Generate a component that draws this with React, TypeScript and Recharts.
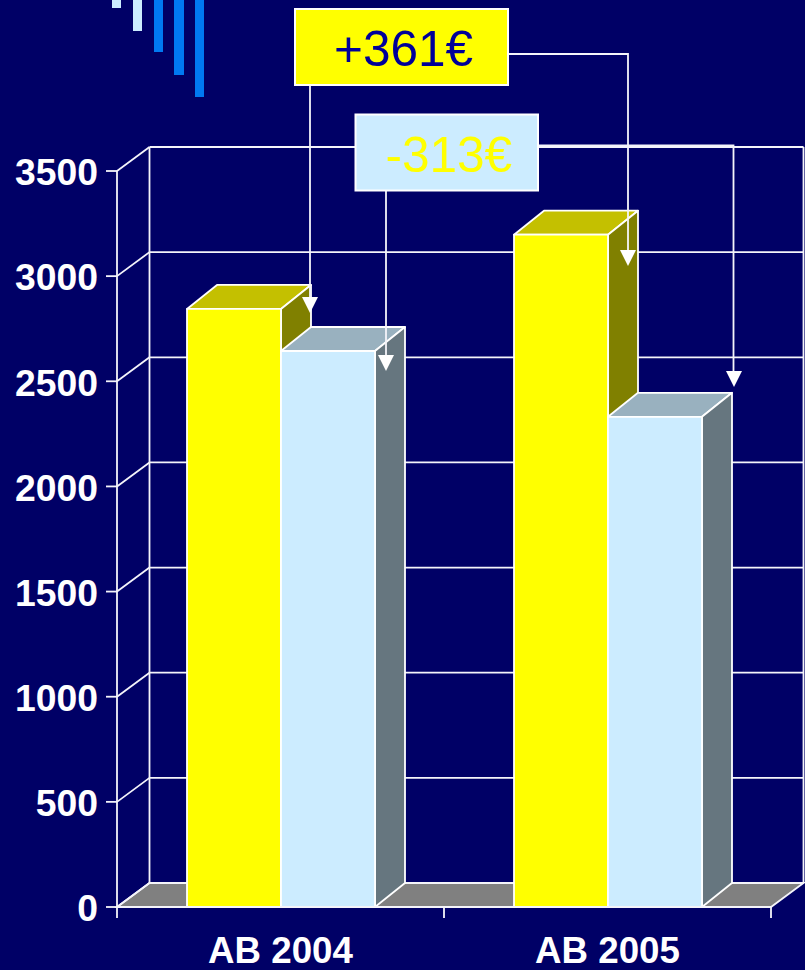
import React from "react";
import { BarChart, Bar, XAxis, YAxis, CartesianGrid } from "recharts";

const categories = ["AB 2004", "AB 2005"];
const yellowSeries = [2844, 3197];
const blueSeries = [2644, 2331];
const yTicks = [0, 500, 1000, 1500, 2000, 2500, 3000, 3500];

const data = categories.map((name, i) => ({ name, yellow: yellowSeries[i], blue: blueSeries[i] }));

const W = 805, H = 970;
const AXIS_H = 63, AXIS_W = 117;
const M = { top: 171, right: 34, bottom: 0, left: 0 };
const BAND = (W - AXIS_W - M.right) / categories.length;
const LINE = "#f4f4fa";
const LW = 1.8;
const FONT = "'Liberation Sans', Arial, sans-serif";

function Bar3D(props: any) {
  const { x, y, width, height, front, top, side } = props;
  const dx = 30, dy = 24;
  const stroke = { stroke: "#fff", strokeWidth: 1.8, strokeLinejoin: "round" as const };
  return (
    <g>
      <path d={`M${x},${y} L${x + dx},${y - dy} L${x + width + dx},${y - dy} L${x + width},${y} Z`} fill={top} {...stroke} />
      <path d={`M${x + width},${y} L${x + width + dx},${y - dy} L${x + width + dx},${y + height - dy} L${x + width},${y + height} Z`} fill={side} {...stroke} />
      <rect x={x} y={y} width={width} height={height} fill={front} {...stroke} />
    </g>
  );
}

function GridLine3D(props: any) {
  const { x1, x2, y1, index } = props;
  const dx = 32.5, dy = 24;
  const isBase = Math.abs(y1 - (H - AXIS_H)) < 0.5;
  return (
    <g key={index}>
      {isBase && (
        <path
          d={`M${x1},${y1} L${x1 + dx},${y1 - dy} L${x2 + dx},${y1 - dy} L${x2},${y1} Z`}
          fill="#808080"
          stroke={LINE}
          strokeWidth={LW}
        />
      )}
      <line x1={x1} y1={y1} x2={x1 + dx} y2={y1 - dy} stroke={LINE} strokeWidth={LW} />
      <line x1={x1 + dx} y1={y1 - dy} x2={x2 + dx} y2={y1 - dy} stroke={LINE} strokeWidth={LW} />
      {isBase && (
        <>
          <line x1={x1 + dx} y1={y1 - dy} x2={x1 + dx} y2={M.top - dy} stroke={LINE} strokeWidth={LW} />
          <line x1={x2 + dx} y1={y1 - dy} x2={x2 + dx} y2={M.top - dy} stroke={LINE} strokeWidth={LW} />
        </>
      )}
    </g>
  );
}

function CategoryTick(props: any) {
  const { x, y, payload, index } = props;
  const left = x - BAND / 2;
  return (
    <g>
      <line x1={left} y1={y} x2={left} y2={y + 11} stroke={LINE} strokeWidth={LW} />
      {index === categories.length - 1 && (
        <line x1={left + BAND} y1={y} x2={left + BAND} y2={y + 11} stroke={LINE} strokeWidth={LW} />
      )}
      <text x={x} y={y + 56} textAnchor="middle" fontFamily={FONT} fontWeight={700} fontSize={36.7} fill="#fff">
        {payload.value}
      </text>
    </g>
  );
}

function Connector({ d, tipX, tipY }: { d: string; tipX: number; tipY: number }) {
  return (
    <g>
      <path d={d} fill="none" stroke={LINE} strokeWidth={LW} />
      <path d={`M${tipX - 8},${tipY - 16} L${tipX + 8},${tipY - 16} L${tipX},${tipY} Z`} fill="#fff" />
    </g>
  );
}

function Callout({ x, y, width, height, fill, color, label }: any) {
  return (
    <g>
      <rect x={x} y={y} width={width} height={height} fill={fill} stroke="#fff" strokeWidth={2} />
      <text x={x + width / 2 + 2} y={y + height / 2 + 19} textAnchor="middle" fontFamily={FONT} fontSize={49.5} fill={color}>
        {label}
      </text>
    </g>
  );
}

const decorBars = [
  { x: 112, w: 9, h: 8, c: "#CCECFF" },
  { x: 133, w: 9, h: 31, c: "#CCECFF" },
  { x: 154, w: 9, h: 52, c: "#0079F2" },
  { x: 174, w: 10, h: 75, c: "#0079F2" },
  { x: 195, w: 9, h: 97, c: "#0079F2" },
];

export default function App() {
  return (
    <div style={{ position: "absolute", left: 0, top: 0, width: W, height: H, background: "#000066", overflow: "hidden" }}>
      <BarChart width={W} height={H} data={data} margin={M} barGap={0} barSize={94}>
        <CartesianGrid horizontal={GridLine3D as any} vertical={false} />
        <XAxis
          dataKey="name"
          axisLine={{ stroke: LINE, strokeWidth: LW }}
          tickLine={false}
          tickSize={0}
          tickMargin={0}
          tick={CategoryTick as any}
          interval={0}
          height={AXIS_H}
        />
        <YAxis
          width={AXIS_W}
          domain={[0, 3500]}
          ticks={yTicks}
          interval={0}
          axisLine={{ stroke: LINE, strokeWidth: LW }}
          tickLine={{ stroke: LINE, strokeWidth: LW }}
          tickSize={11}
          tickMargin={8}
          dy={1}
          tick={{ fill: "#fff", fontFamily: FONT, fontWeight: 700, fontSize: 37.3 }}
        />
        <Bar dataKey="yellow" isAnimationActive={false} shape={<Bar3D front="#FFFF00" top="#C4C000" side="#808000" />} />
        <Bar dataKey="blue" isAnimationActive={false} shape={<Bar3D front="#CCECFF" top="#99B1BF" side="#66767F" />} />
      </BarChart>
      <svg width={W} height={H} style={{ position: "absolute", left: 0, top: 0, pointerEvents: "none" }}>
        {decorBars.map((b) => (
          <rect key={b.x} x={b.x} y={0} width={b.w} height={b.h} fill={b.c} />
        ))}
        <Connector d="M310,85 L310,300" tipX={310} tipY={313} />
        <Connector d="M508,54 L628,54 L628,255" tipX={628} tipY={266} />
        <Connector d="M386,191 L386,360" tipX={386} tipY={371} />
        <Connector d="M538,145.5 L733.5,145.5 L733.5,375" tipX={734} tipY={387} />
        <Callout x={295} y={9} width={213} height={76} fill="#FFFF00" color="#000099" label="+361€" />
        <Callout x={355.5} y={114.5} width={182.5} height={76} fill="#CCECFF" color="#FFFF00" label="-313€" />
      </svg>
    </div>
  );
}
